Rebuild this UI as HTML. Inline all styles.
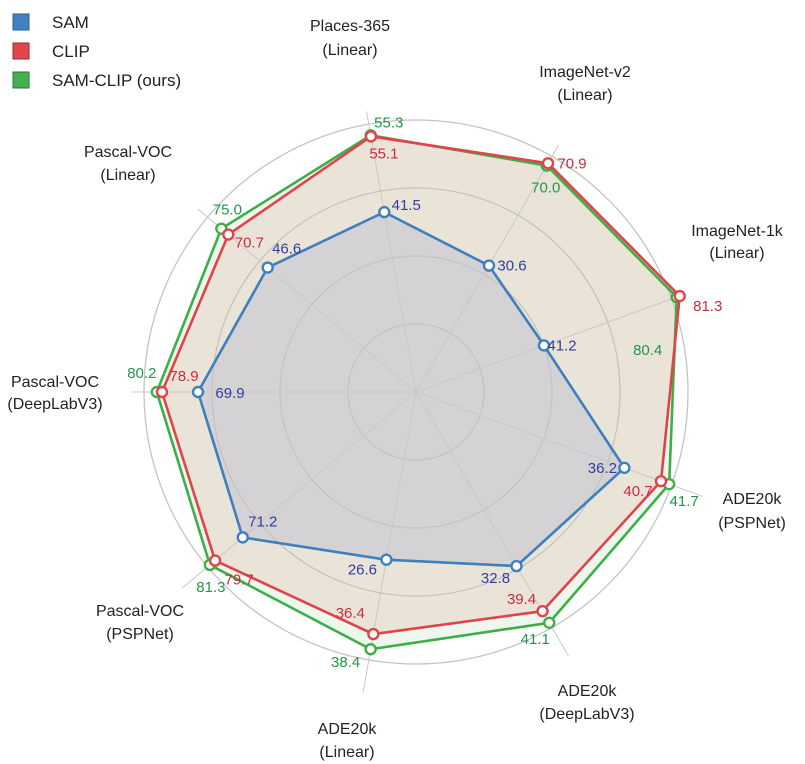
<!DOCTYPE html>
<html><head><meta charset="utf-8"><style>
html,body{margin:0;padding:0;background:#fff;}
svg{display:block;font-family:"Liberation Sans",sans-serif;}
</style></head><body>
<svg id="chart" width="805" height="764" viewBox="0 0 805 764">
<g id="legend">
 <g><rect x="13" y="14" width="16" height="16" fill="#3f83c0" stroke="#2a5f90" stroke-width="1"/><text x="52" y="28" font-size="17" fill="#222">SAM</text></g>
 <g><rect x="13" y="43" width="16" height="16" fill="#e0464c" stroke="#a0282c" stroke-width="1"/><text x="52" y="57" font-size="17" fill="#222">CLIP</text></g>
 <g><rect x="13" y="72" width="16" height="16" fill="#46b050" stroke="#2a7a33" stroke-width="1"/><text x="52" y="86" font-size="17" fill="#222">SAM-CLIP (ours)</text></g>
</g>
</svg>
<script>
const axisNames=[["Places-365","(Linear)"],["ImageNet-v2","(Linear)"],["ImageNet-1k","(Linear)"],["ADE20k","(PSPNet)"],["ADE20k","(DeepLabV3)"],["ADE20k","(Linear)"],["Pascal-VOC","(PSPNet)"],["Pascal-VOC","(DeepLabV3)"],["Pascal-VOC","(Linear)"]];
const samValues=[41.5,30.6,41.2,36.2,32.8,26.6,71.2,69.9,46.6];
const clipValues=[55.1,70.9,81.3,40.7,39.4,36.4,79.7,78.9,70.7];
const samClipValues=[55.3,70.0,80.4,41.7,41.1,38.4,81.3,80.2,75.0];
const axisMin=[9.2,-19.2,3.4,10.6,7.3,4.5,17.9,15.4,-44.3];
const axisMax=[57.3,73.6,78.9,42.0,41.8,39.8,82.0,83.4,83.4];

const CX=416,CY=392,R=272;
const NS="http://www.w3.org/2000/svg";
const svg=document.getElementById('chart');
function mk(tag,attrs,parent){const e=document.createElementNS(NS,tag);for(const k in attrs)e.setAttribute(k,attrs[k]);(parent||svg).appendChild(e);return e;}
function angle(i){return (100-40*i)*Math.PI/180;}
function rScale(i,v){return R*(v-axisMin[i])/(axisMax[i]-axisMin[i]);}
function pt(i,r){const a=angle(i);return [CX+r*Math.cos(a),CY-r*Math.sin(a)];}

const grid=mk('g',{});



const series=[
 {name:'sam-clip',vals:samClipValues,stroke:'#3fae49',fill:'rgba(228,245,230,0.7)',txt:'#23964a',
  off:[[18,-13],[-1,22],[-29,53],[15,17],[-14,16],[-25,13],[1,22],[-15,-19],[6,-19]]},
 {name:'clip',vals:clipValues,stroke:'#e0434a',fill:'rgba(232,208,196,0.5)',txt:'#c92b3d',
  off:[[13,17],[24,0],[28,10],[-23,10],[-21,-12],[-23,-21],[24,19],[22,-16],[21,8]]},
 {name:'sam',vals:samValues,stroke:'#3d80bd',fill:'rgba(196,198,210,0.6)',txt:'#343d9c',
  off:[[22,-7],[23,0],[18,0],[-22,0],[-21,12],[-24,10],[20,-16],[32,1],[19,-19]]}
];
const labelPos=[[350,31,350,55],[585,77,585,100],[737,236,737,258],[752,504,752,528],[587,696,587,719],[347,734,347,757],[140,616,140,639],[55,387,55,409],[128,157,128,180]];

series.forEach(s=>{
 const pts=s.vals.map((v,i)=>pt(i,rScale(i,v)));
 const p=mk('polygon',{points:pts.map(q=>q.join(',')).join(' '),fill:s.fill,stroke:'none'});
 
 
});
[68,136,204,272].forEach(r=>{mk('circle',{cx:CX,cy:CY,r:r,fill:'none',stroke:'#c4c4c4','stroke-width':1.3},grid);});
svg.appendChild(grid);
for(let i=0;i<9;i++){
 const e=pt(i,i===3||i===4||i===5||i===6?305:285);
 const l=mk('line',{x1:CX,y1:CY,x2:e[0],y2:e[1],stroke:'#c8c8c8','stroke-width':1},grid);
 
 
 const lp=labelPos[i];
 const t=mk('text',{x:lp[0],y:lp[1],'font-size':16,'text-anchor':'middle',fill:'#222'});
 t.textContent=axisNames[i][0];
 
 
 const t2=mk('text',{x:lp[2],y:lp[3],'font-size':16,'text-anchor':'middle',fill:'#222'});
 t2.textContent=axisNames[i][1];
 
 
}
series.forEach(s=>{
 const pts=s.vals.map((v,i)=>pt(i,rScale(i,v)));
 const pl=mk('polygon',{points:pts.map(q=>q.join(',')).join(' '),fill:'none',stroke:s.stroke,'stroke-width':2.6,'stroke-linejoin':'round'});
 
 
 pts.forEach((q,i)=>{
  const c=mk('circle',{cx:q[0],cy:q[1],r:5,fill:'#fff',stroke:s.stroke,'stroke-width':2.4});
  
  
  const t=mk('text',{x:q[0]+s.off[i][0],y:q[1]+s.off[i][1]+5,'font-size':15,'text-anchor':'middle',fill:s.txt});
  t.textContent=s.vals[i].toFixed(1);
  
  
 });
});
svg.appendChild(document.getElementById('legend'));
</script>
</body></html>
